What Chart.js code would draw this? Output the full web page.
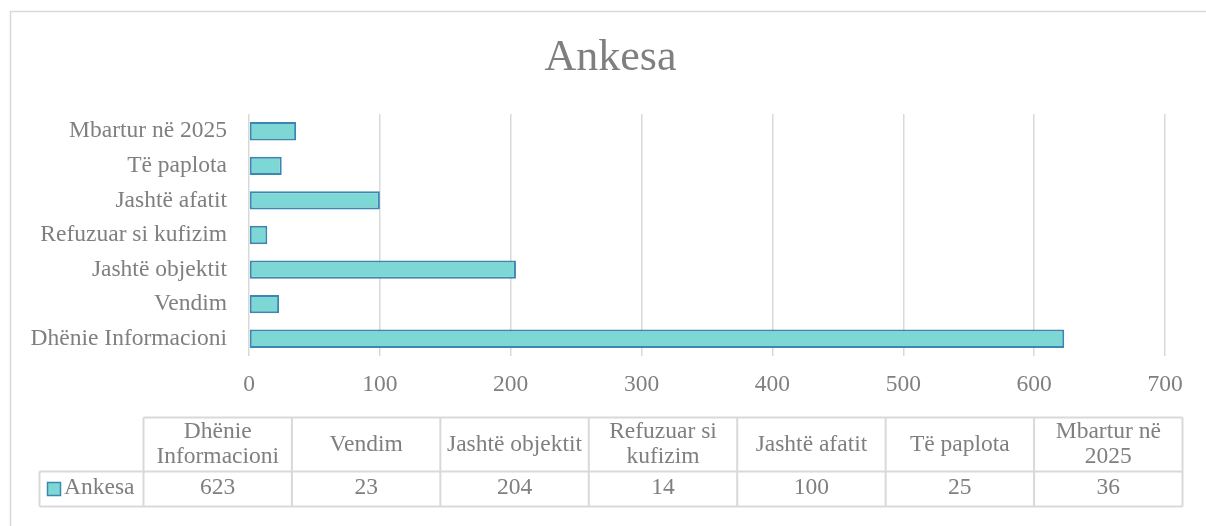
<!DOCTYPE html>
<html>
<head>
<meta charset="utf-8">
<title>Ankesa</title>
<script src="https://cdn.jsdelivr.net/npm/chart.js@4.4.1/dist/chart.umd.min.js"></script>
<style>
  html, body { margin: 0; padding: 0; background: #fff; }
  #wrap { width: 1206px; height: 526px; }
</style>
</head>
<body>
<div id="wrap"><canvas id="myChart" width="1206" height="526"></canvas></div>
<script>
const chartTitle = 'Ankesa';
const seriesName = 'Ankesa';
const categories = ['Dhënie Informacioni', 'Vendim', 'Jashtë objektit', 'Refuzuar si kufizim', 'Jashtë afatit', 'Të paplota', 'Mbartur në 2025'];
const ankesaValues = [623, 23, 204, 14, 100, 25, 36];
const xTicks = [0, 100, 200, 300, 400, 500, 600, 700];

const fontFamily = '"Liberation Serif", "Times New Roman", serif';
const fontSize = 23.5;
const textColor = '#7f7f7f';
const lineColor = '#d9d9d9';
const barFill = '#7dd8d5';
const barLine = '#3b86b2';

// split a header into lines that fit the column
function wrapText(ctx, text, maxW) {
    const words = text.split(' ');
    var lines = [];
    var cur = '';
    for (let i = 0; i < words.length; i++) {
        const test = cur === '' ? words[i] : cur + ' ' + words[i];
        if (ctx.measureText(test).width > maxW && cur !== '') {
            lines.push(cur);
            cur = words[i];
        } else {
            cur = test;
        }
    }
    lines.push(cur);
    return lines;
}

const frameAndTable = {
    id: 'frameAndTable',
    beforeDraw(chart) {
        const ctx = chart.ctx;
        ctx.save();
        ctx.strokeStyle = lineColor;
        ctx.lineWidth = 1.5;
        ctx.beginPath();
        ctx.moveTo(10.5, 526);
        ctx.lineTo(10.5, 11.5);
        ctx.lineTo(1206, 11.5);
        ctx.stroke();
        ctx.restore();
    },
    afterDraw(chart) {
        const ctx = chart.ctx;
        ctx.save();
        ctx.fillStyle = textColor;
        ctx.textAlign = 'center';
        ctx.textBaseline = 'middle';

        // title
        ctx.font = '44px ' + fontFamily;
        ctx.fillText(chartTitle, 610.5, 58);
        ctx.font = fontSize + 'px ' + fontFamily;

        // data table under the chart
        const left = 39.5, colStart = 143.5, right = 1182.5;
        const top = 417.5, mid = 471.5, bottom = 506.5;
        const colW = (right - colStart) / categories.length;

        ctx.strokeStyle = lineColor;
        ctx.lineWidth = 2;
        ctx.beginPath();
        ctx.moveTo(colStart, top); ctx.lineTo(right, top);
        ctx.moveTo(left, mid); ctx.lineTo(right, mid);
        ctx.moveTo(left, bottom); ctx.lineTo(right, bottom);
        ctx.moveTo(left, mid); ctx.lineTo(left, bottom);
        for (let i = 0; i <= categories.length; i++) {
            const x = colStart + i * colW;
            ctx.moveTo(x, top); ctx.lineTo(x, bottom);
        }
        ctx.stroke();

        const lineH = 25;
        const valueY = 488;
        for (let i = 0; i < categories.length; i++) {
            const cx = colStart + (i + 0.5) * colW;
            const lines = wrapText(ctx, categories[i], colW - 8);
            const cy = (top + mid) / 2;
            for (let j = 0; j < lines.length; j++) {
                ctx.fillText(lines[j], cx, cy + (j - (lines.length - 1) / 2) * lineH);
            }
            ctx.fillText(String(ankesaValues[i]), cx, valueY);
        }

        // legend key in the table
        ctx.fillStyle = barFill;
        ctx.fillRect(47.5, 482.5, 13, 13);
        ctx.strokeStyle = barLine;
        ctx.lineWidth = 1.5;
        ctx.strokeRect(47.5, 482.5, 13, 13);
        ctx.fillStyle = textColor;
        ctx.textAlign = 'left';
        ctx.fillText(seriesName, 64, valueY);
        ctx.restore();
    }
};

const ctx = document.getElementById('myChart').getContext('2d');
window.myChart = new Chart(ctx, {
    type: 'bar',
    data: {
        labels: categories,
        datasets: [{
            label: seriesName,
            data: ankesaValues,
            backgroundColor: barFill,
            borderColor: barLine,
            borderWidth: 2,
            borderSkipped: false,
            barPercentage: 0.53,
            categoryPercentage: 1
        }]
    },
    options: {
        indexAxis: 'y',
        responsive: false,
        animation: false,
        layout: { padding: { left: 0, right: 41, top: 114, bottom: 0 } },
        plugins: {
            legend: { display: false },
            title: { display: false },
            tooltip: { enabled: false }
        },
        scales: {
            x: {
                min: 0,
                max: 700,
                afterBuildTicks: s => { s.ticks = xTicks.map(v => ({ value: v })); },
                grid: { color: lineColor, lineWidth: 1.5, drawTicks: false },
                border: { display: false },
                ticks: { color: textColor, font: { family: fontFamily, size: fontSize }, padding: 15 },
                afterFit: s => { s.height = 170; }
            },
            y: {
                reverse: true,
                grid: { display: false, drawTicks: false },
                border: { display: false },
                ticks: { color: textColor, font: { family: fontFamily, size: fontSize }, padding: 22 },
                afterFit: s => { s.width = 249; }
            }
        }
    },
    plugins: [frameAndTable]
});
</script>
</body>
</html>
